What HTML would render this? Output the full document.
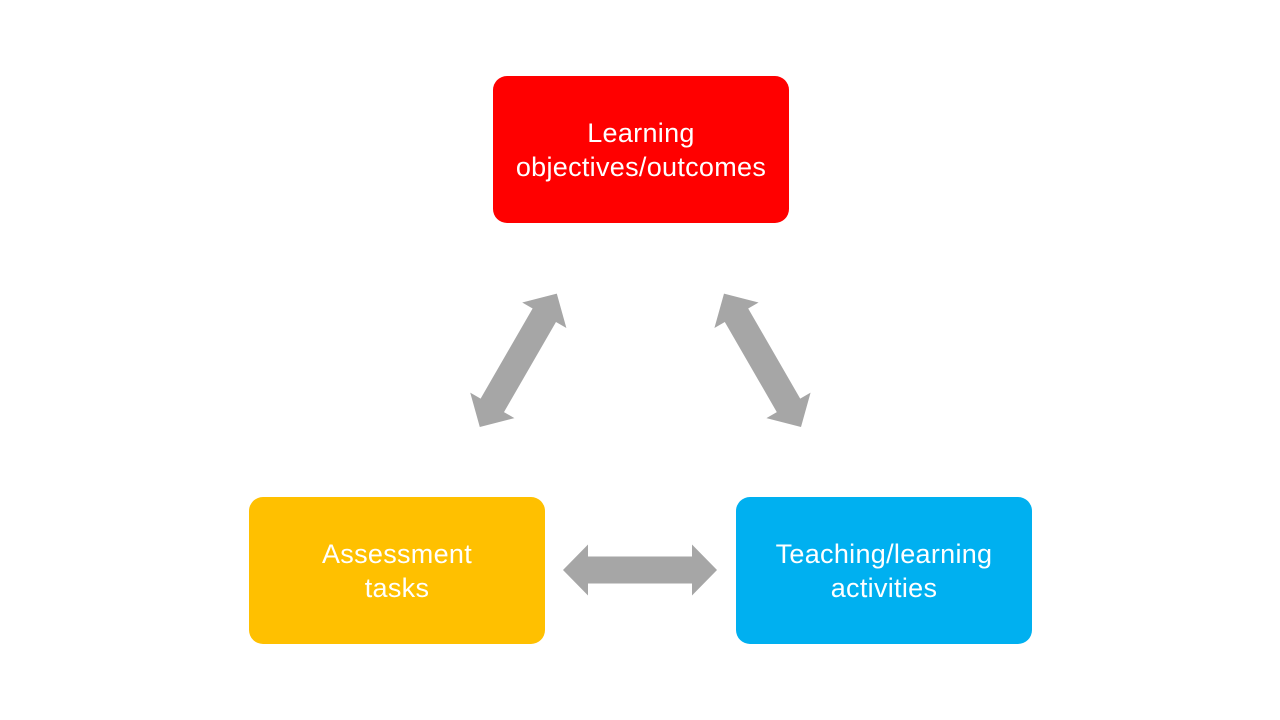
<!DOCTYPE html>
<html><head><style>
body{margin:0;width:1280px;height:720px;background:#fff;position:relative;overflow:hidden;font-family:"Liberation Sans",sans-serif}
.b{position:absolute;width:296px;height:147px;border-radius:14px;color:#fff;font-size:27px;line-height:34px;display:flex;align-items:center;justify-content:center;text-align:center;letter-spacing:0.3px}
svg{position:absolute;left:0;top:0}
</style></head><body>
<div class="b" style="left:493px;top:76px;background:#ff0000">Learning<br>objectives/outcomes</div>
<div class="b" style="left:249px;top:497px;background:#ffc000">Assessment<br>tasks</div>
<div class="b" style="left:736px;top:497px;background:#00b0f0">Teaching/learning<br>activities</div>
<svg width="1280" height="720">
<defs><polygon id="a" points="-77,0 -52,-25.5 -52,-13.5 52,-13.5 52,-25.5 77,0 52,25.5 52,13.5 -52,13.5 -52,25.5" fill="#a6a6a6"/></defs>
<use href="#a" transform="translate(640,570)"/>
<use href="#a" transform="translate(518.3,360.3) rotate(-60)"/>
<use href="#a" transform="translate(762.5,360.3) rotate(60)"/>
</svg>
</body></html>
